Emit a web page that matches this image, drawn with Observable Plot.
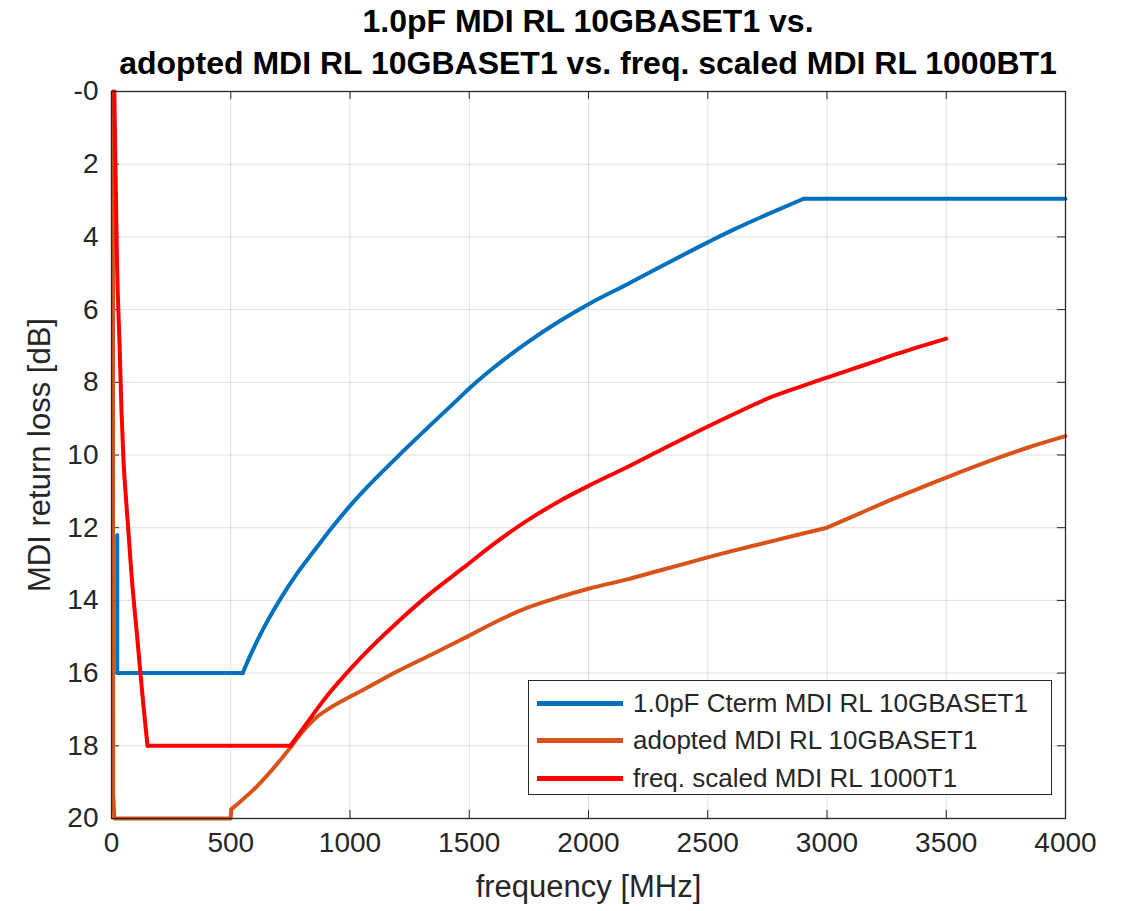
<!DOCTYPE html>
<html>
<head>
<meta charset="utf-8">
<script src="https://cdn.jsdelivr.net/npm/d3@7"></script>
<script src="https://cdn.jsdelivr.net/npm/@observablehq/plot@0.6"></script>
<style>
  body { margin: 0; background: #fff; font-family: "Liberation Sans", Arial, sans-serif; }
  #wrap { position: relative; width: 1122px; height: 911px; }
  #title { position: absolute; left: 0; top: 0; width: 1122px; box-sizing: border-box; padding-left: 54px; text-align: center;
           font-weight: bold; font-size: 32px; line-height: 42px; color: #000; }
  #legend { position: absolute; left: 528px; top: 680px; width: 524px; height: 115px; box-sizing: border-box;
            border: 1px solid #262626; background: #fff; font-size: 26px; color: #262626; }
  .row { position: absolute; left: 8px; height: 30px; display: flex; align-items: center; }
  .sw { width: 86px; height: 5px; margin-right: 10px; }
</style>
</head>
<body>
<div id="wrap">
  <div id="chart"></div>
  <div id="title">1.0pF MDI RL 10GBASET1 vs.<br>adopted MDI RL 10GBASET1 vs. freq. scaled MDI RL 1000BT1</div>
  <div id="legend"></div>
</div>
<script>
// ---- data ----
const seriesNames = ["1.0pF Cterm MDI RL 10GBASET1", "adopted MDI RL 10GBASET1", "freq. scaled MDI RL 1000T1"];
const seriesColors = ["#0072BD", "#D95319", "#FF0000"];

// 1.0pF Cterm MDI RL 10GBASET1
const blueFreq = [24, 24, 550, 583, 639, 709, 779, 848, 918, 1000, 1058, 1199, 1463, 1500, 1602, 1744, 1883, 2000, 2163, 2500, 2608, 2750, 2902, 4000];
const blueRL   = [12.2, 16, 16, 15.5, 14.75, 13.95, 13.25, 12.65, 12.05, 11.4, 10.98, 10.05, 8.4, 8.17, 7.6, 6.9, 6.3, 5.85, 5.3, 4.15, 3.8, 3.38, 2.95, 2.95];

// adopted MDI RL 10GBASET1
const orangeFreq = [6, 7, 12, 500, 502, 612, 750, 800, 850, 918, 1000, 1058, 1199, 1338, 1476, 1602, 1744, 1883, 2000, 2163, 2303, 2443, 2555, 2721, 2860, 3000, 3140, 3280, 3420, 3500, 3700, 3840, 4000];
const orangeRL   = [0, 19.3, 20, 20, 19.75, 19.1, 18.05, 17.62, 17.27, 16.95, 16.65, 16.45, 15.95, 15.5, 15.05, 14.62, 14.2, 13.9, 13.68, 13.42, 13.17, 12.92, 12.72, 12.45, 12.22, 12.0, 11.6, 11.2, 10.83, 10.62, 10.12, 9.8, 9.48];

// freq. scaled MDI RL 1000T1
const redFreq = [12, 15, 23, 34, 42, 50, 63, 84, 109, 134, 151, 750, 822, 889, 1000, 1057, 1199, 1338, 1476, 1602, 1744, 1883, 2000, 2163, 2303, 2443, 2608, 2750, 2889, 3000, 3163, 3303, 3500];
const redRL   = [0, 1.4, 4.7, 7.0, 8.8, 10.1, 11.4, 13.3, 15.1, 16.9, 18, 18, 17.35, 16.75, 15.9, 15.5, 14.6, 13.8, 13.1, 12.45, 11.8, 11.25, 10.85, 10.33, 9.86, 9.4, 8.88, 8.45, 8.12, 7.87, 7.51, 7.2, 6.8];

const xTicks = [0, 500, 1000, 1500, 2000, 2500, 3000, 3500, 4000];
const yTicks = [0, 2, 4, 6, 8, 10, 12, 14, 16, 18, 20];
const xLabel = "frequency [MHz]";
const yLabel = "MDI return loss [dB]";

const toRows = (fs, rs) => fs.map((f, i) => ({f, rl: rs[i]}));
const blue = toRows(blueFreq, blueRL);
const orange = toRows(orangeFreq, orangeRL);
const red = toRows(redFreq, redRL);
const seg = (rows, a, b) => rows.slice(a, b + 1);

const W = 1122, H = 911, mT = 91, mB = 93, mL = 111, mR = 57;
const frameH = H - mT - mB, frameW = W - mL - mR, tl = 8;

const ln = (rows, color, curve) => Plot.line(rows, {x: "f", y: "rl", stroke: color, strokeWidth: 4, strokeLinejoin: "round", curve});

const chart = Plot.plot({
  width: W, height: H,
  marginTop: mT, marginBottom: mB, marginLeft: mL, marginRight: mR,
  style: {fontFamily: "'Liberation Sans', Arial, sans-serif", fontSize: "28px", color: "#262626", background: "transparent", overflow: "visible"},
  x: {domain: [0, 4000], ticks: xTicks, tickSize: 0, tickPadding: 14, label: null, tickFormat: d => String(d)},
  y: {domain: [0, 20], reverse: true, ticks: yTicks, tickSize: 0, tickPadding: 13, label: null,
      tickFormat: d => d === 0 ? "-0" : String(d)},
  marks: [
    Plot.ruleX(xTicks.slice(1, -1), {stroke: "#000", strokeOpacity: 0.13}),
    Plot.ruleY(yTicks.slice(1, -1), {stroke: "#000", strokeOpacity: 0.13}),
    Plot.tickX(xTicks, {x: d => d, insetBottom: frameH - tl, stroke: "#262626"}),
    Plot.tickX(xTicks, {x: d => d, insetTop: frameH - tl, stroke: "#262626"}),
    Plot.tickY(yTicks, {y: d => d, insetRight: frameW - tl, stroke: "#262626"}),
    Plot.tickY(yTicks, {y: d => d, insetLeft: frameW - tl, stroke: "#262626"}),
    // blue
    ln(seg(blue, 0, 2), seriesColors[0], "linear"),
    ln(seg(blue, 2, 22), seriesColors[0], "monotone-x"),
    ln(seg(blue, 22, blue.length - 1), seriesColors[0], "linear"),
    // orange
    ln(seg(orange, 0, 4), seriesColors[1], "linear"),
    ln(seg(orange, 4, 25), seriesColors[1], "monotone-x"),
    ln(seg(orange, 25, orange.length - 1), seriesColors[1], "monotone-x"),
    // red
    ln(seg(red, 0, 10), seriesColors[2], "monotone-x"),
    ln(seg(red, 10, 11), seriesColors[2], "linear"),
    ln(seg(red, 11, red.length - 1), seriesColors[2], "monotone-x"),
    Plot.frame({stroke: "#262626", strokeWidth: 1.3}),
    Plot.text([xLabel], {frameAnchor: "bottom", dy: 69, lineAnchor: "middle", textAnchor: "middle", fontSize: 31, fill: "#262626", text: d => d}),
    Plot.text([yLabel], {frameAnchor: "left", dx: -71, rotate: -90, lineAnchor: "middle", textAnchor: "middle", fontSize: 31, fill: "#262626", text: d => d})
  ]
});
document.getElementById("chart").appendChild(chart);

// legend
const leg = document.getElementById("legend");
seriesNames.forEach((name, i) => {
  const row = document.createElement("div");
  row.className = "row";
  row.style.top = (7 + i * 37.5) + "px";
  const sw = document.createElement("div");
  sw.className = "sw";
  sw.style.background = seriesColors[i];
  const tx = document.createElement("span");
  tx.textContent = name;
  row.appendChild(sw); row.appendChild(tx);
  leg.appendChild(row);
});
</script>
</body>
</html>
